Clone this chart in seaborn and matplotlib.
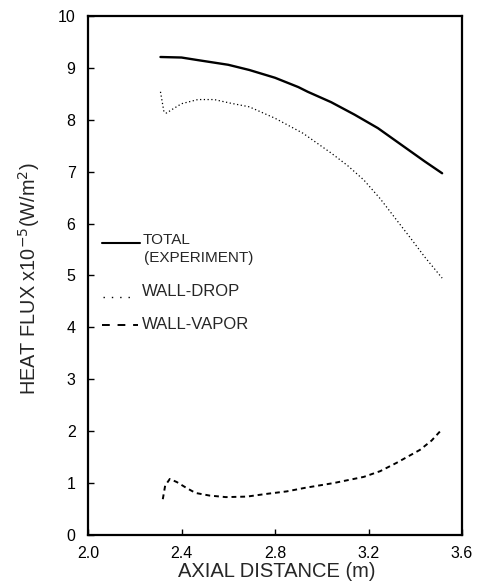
import matplotlib
matplotlib.use("Agg")
import matplotlib.pyplot as plt
import seaborn as sns
import pandas as pd

# Axial distance (m) and heat flux (x10^-5 W/m^2) for each series
total_x = [2.31, 2.40, 2.47, 2.60, 2.69, 2.80, 2.90, 2.94, 3.04, 3.14, 3.24, 3.34, 3.44, 3.515]
total_y = [9.21, 9.20, 9.15, 9.06, 8.96, 8.81, 8.63, 8.54, 8.34, 8.10, 7.84, 7.52, 7.20, 6.97]

drop_x = [2.31, 2.325, 2.336, 2.36, 2.40, 2.47, 2.54, 2.61, 2.69, 2.80, 2.92, 3.04,
          3.11, 3.18, 3.25, 3.32, 3.38, 3.44, 3.515]
drop_y = [8.54, 8.15, 8.13, 8.20, 8.31, 8.39, 8.39, 8.32, 8.25, 8.03, 7.74, 7.36,
          7.12, 6.84, 6.48, 6.07, 5.72, 5.36, 4.95]

vapor_x = [2.32, 2.33, 2.35, 2.38, 2.42, 2.46, 2.52, 2.59, 2.68, 2.76, 2.85, 2.93,
           3.05, 3.18, 3.25, 3.32, 3.38, 3.42, 3.47, 3.515]
vapor_y = [0.69, 0.95, 1.08, 1.02, 0.91, 0.81, 0.76, 0.73, 0.74, 0.79, 0.84, 0.91,
           1.00, 1.12, 1.23, 1.39, 1.54, 1.64, 1.82, 2.04]

x_ticks = [2.0, 2.4, 2.8, 3.2, 3.6]
x_tick_labels = ["2.0", "2.4", "2.8", "3.2", "3.6"]
y_ticks = list(range(0, 11))

legend_labels = ["TOTAL", "(EXPERIMENT)", "WALL-DROP", "WALL-VAPOR"]

sns.set_style("ticks")
plt.rcParams["font.family"] = ["Liberation Sans", "DejaVu Sans"]

fig = plt.figure(figsize=(4.84, 5.84), dpi=100)
ax = fig.add_axes([88 / 484, 49 / 584, 374 / 484, 519 / 584])

total_df = pd.DataFrame({"x": total_x, "y": total_y})
drop_df = pd.DataFrame({"x": drop_x, "y": drop_y})
vapor_df = pd.DataFrame({"x": vapor_x, "y": vapor_y})

sns.lineplot(data=total_df, x="x", y="y", ax=ax, color="black", lw=1.7, sort=False)
sns.lineplot(data=drop_df, x="x", y="y", ax=ax, color="black", lw=0.9,
             linestyle=(0, (1, 2)), sort=False)
sns.lineplot(data=vapor_df, x="x", y="y", ax=ax, color="black", lw=1.4,
             linestyle=(0, (2.5, 2)), sort=False)

ax.set_xlim(2.0, 3.6)
ax.set_ylim(0, 10)
ax.set_xticks(x_ticks)
ax.set_xticklabels(x_tick_labels)
ax.set_yticks(y_ticks)
ax.tick_params(axis="both", direction="in", length=4, width=1, labelsize=11.5,
               colors="black")
ax.tick_params(axis="x", pad=8)
ax.tick_params(axis="y", pad=9)

for side in ["left", "bottom", "right", "top"]:
    ax.spines[side].set_visible(True)
    ax.spines[side].set_linewidth(1.6)
    ax.spines[side].set_color("black")

ax.set_xlabel("AXIAL DISTANCE (m)", fontsize=14.5)
ax.xaxis.set_label_coords(0.505, -0.052)
ax.set_ylabel(r"HEAT FLUX x10$^{-5}$(W/m$^{2}$)", fontsize=14.3)
ax.yaxis.set_label_coords(-0.123, 0.493)

# Key drawn inside the axes
tr = ax.transAxes
ax.plot([0.037, 0.140], [0.563, 0.563], transform=tr, color="black", lw=1.5)
ax.text(0.147, 0.569, legend_labels[0], transform=tr, fontsize=11, va="center", ha="left")
ax.text(0.150, 0.533, legend_labels[1], transform=tr, fontsize=11, va="center", ha="left")
ax.plot([0.040, 0.128], [0.459, 0.459], transform=tr, color="black", lw=1.0,
        linestyle=(0, (1, 5)))
ax.text(0.145, 0.470, legend_labels[2], transform=tr, fontsize=12, va="center", ha="left")
ax.plot([0.037, 0.135], [0.405, 0.405], transform=tr, color="black", lw=1.4,
        linestyle=(0, (4, 4)))
ax.text(0.145, 0.405, legend_labels[3], transform=tr, fontsize=12, va="center", ha="left")

fig.savefig("out.png", dpi=100, facecolor="white")
